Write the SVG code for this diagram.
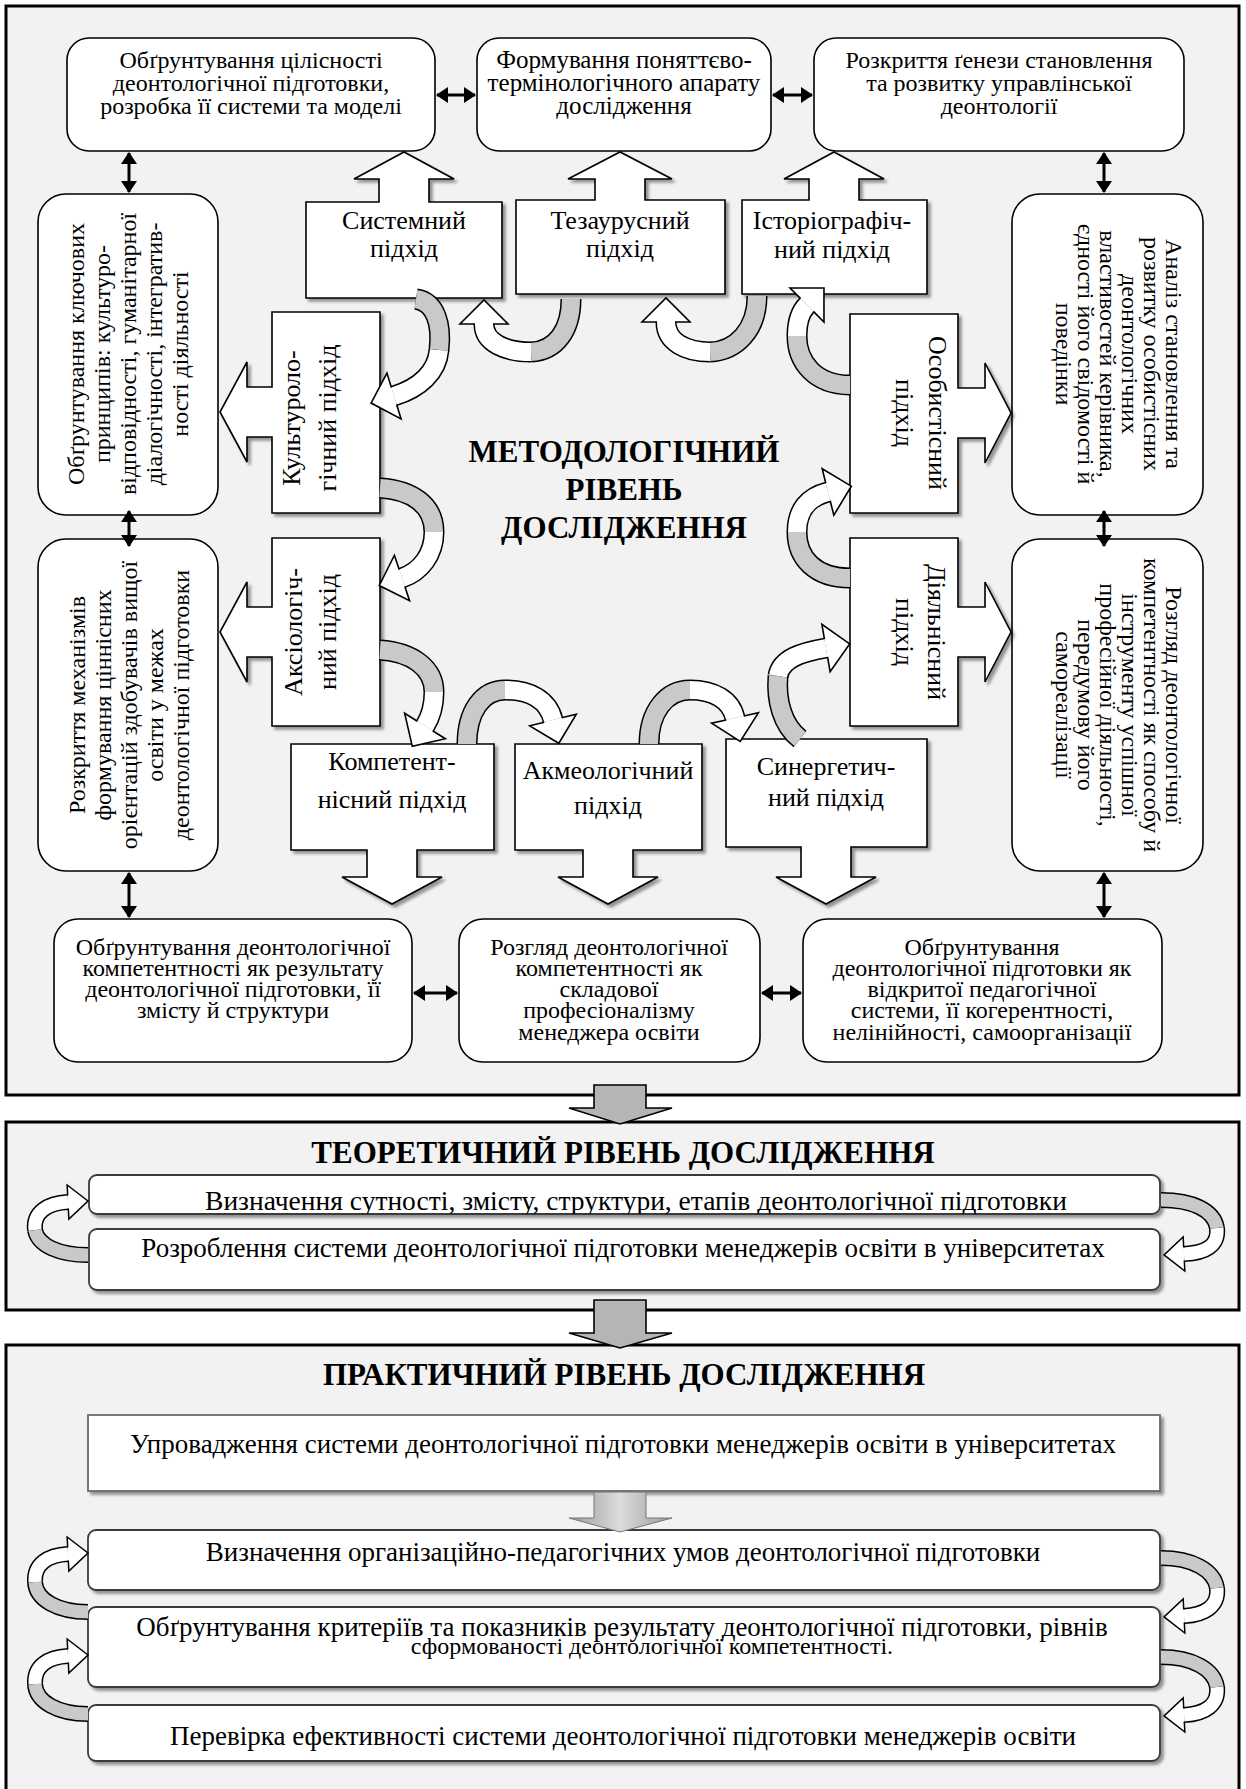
<svg xmlns="http://www.w3.org/2000/svg" width="1246" height="1789" viewBox="0 0 1246 1789">
<style>
.frame{fill:#f2f2f2;stroke:#000;stroke-width:3}
.node{fill:#fff;stroke:#000;stroke-width:1.6}
.appr{fill:#fff;stroke:#000;stroke-width:1.6;stroke-linejoin:miter;filter:url(#sh)}
.lbox{fill:#fff;stroke:#3a3a3a;stroke-width:1.8;filter:url(#sh)}
.t{font-family:"Liberation Serif","Times New Roman",serif;fill:#000;text-anchor:middle}
.s24{font-size:24px}
.s25{font-size:25px}
.s26{font-size:26px}
.s27{font-size:27px}
.tb{font-weight:bold;font-size:31px}
.dbl{fill:none;stroke:#000;stroke-width:3;marker-start:url(#ah);marker-end:url(#ah)}
.ko{fill:none;stroke:#000;stroke-width:21}
.kg{fill:none;stroke:#c9c9c9;stroke-width:18}
.kw{fill:none;stroke:#fff;stroke-width:18;marker-end:url(#ch)}
.lo{fill:none;stroke:#000;stroke-width:16}
.lg{fill:none;stroke:#c9c9c9;stroke-width:13}
.lw{fill:none;stroke:#fff;stroke-width:13;marker-end:url(#ch2)}
.big{fill:#b5b5b5;stroke:#000;stroke-width:1.6}
</style>
<defs>
<filter id="sh" x="-10%" y="-10%" width="130%" height="130%">
<feDropShadow dx="3" dy="3" stdDeviation="1.5" flood-color="#000" flood-opacity="0.4"/>
</filter>
<marker id="ah" markerUnits="userSpaceOnUse" markerWidth="14" markerHeight="16" viewBox="0 0 14 16" refX="11" refY="8" orient="auto-start-reverse">
<path d="M0,0 L12,8 L0,16 z" fill="#000"/>
</marker>
<marker id="ch" markerUnits="userSpaceOnUse" markerWidth="50" markerHeight="50" refX="0" refY="0" orient="auto" overflow="visible">
<path d="M0,9 L0,24 L24,0 L0,-24 L0,-9" fill="#fff" stroke="#000" stroke-width="1.6"/>
</marker>
<marker id="ch2" markerUnits="userSpaceOnUse" markerWidth="40" markerHeight="40" refX="0" refY="0" orient="auto" overflow="visible">
<path d="M0,6.5 L0,17 L20,0 L0,-17 L0,-6.5" fill="#fff" stroke="#000" stroke-width="1.5"/>
</marker>
<linearGradient id="gg" x1="0" y1="0" x2="1" y2="0">
<stop offset="0" stop-color="#9a9a9a"/><stop offset="0.5" stop-color="#dcdcdc"/><stop offset="1" stop-color="#9a9a9a"/>
</linearGradient>
<clipPath id="cT1"><rect x="89" y="1175" width="1071" height="39"/></clipPath>
</defs>

<g id="frames">
<rect class="frame" x="6" y="6" width="1233" height="1089"/>
<rect class="frame" x="6" y="1122" width="1233" height="188"/>
<rect class="frame" x="6" y="1345" width="1233" height="448"/>
</g>

<g id="nodeA"><rect class="node" x="67" y="38" width="368" height="113" rx="22"/>
<text class="t s24" x="251" y="68">Обґрунтування цілісності</text>
<text class="t s24" x="251" y="91">деонтологічної підготовки,</text>
<text class="t s24" x="251" y="114">розробка її системи та моделі</text></g>

<g id="nodeB"><rect class="node" x="477" y="38" width="294" height="113" rx="22"/>
<text class="t s25" x="624" y="68">Формування поняттєво-</text>
<text class="t s25" x="624" y="91">термінологічного апарату</text>
<text class="t s25" x="624" y="114">дослідження</text></g>

<g id="nodeC"><rect class="node" x="814" y="38" width="370" height="113" rx="22"/>
<text class="t s24" x="999" y="68">Розкриття ґенези становлення</text>
<text class="t s24" x="999" y="91">та розвитку управлінської</text>
<text class="t s24" x="999" y="114">деонтології</text></g>

<g id="nodeD"><rect class="node" x="38" y="194" width="180" height="321" rx="28"/>
<text class="t s24" transform="translate(84,354) rotate(-90)">Обґрунтування ключових</text>
<text class="t s24" transform="translate(110,354) rotate(-90)">принципів: культуро-</text>
<text class="t s24" transform="translate(136,354) rotate(-90)">відповідності, гуманітарної</text>
<text class="t s24" transform="translate(162,354) rotate(-90)">діалогічності, інтегратив-</text>
<text class="t s24" transform="translate(188,354) rotate(-90)">ності діяльності</text></g>

<g id="nodeE"><rect class="node" x="38" y="539" width="180" height="332" rx="28"/>
<text class="t s24" transform="translate(85,705) rotate(-90)">Розкриття механізмів</text>
<text class="t s24" transform="translate(111,705) rotate(-90)">формування ціннісних</text>
<text class="t s24" transform="translate(137,705) rotate(-90)">орієнтацій здобувачів вищої</text>
<text class="t s24" transform="translate(163,705) rotate(-90)">освіти у межах</text>
<text class="t s24" transform="translate(189,705) rotate(-90)">деонтологічної підготовки</text></g>

<g id="nodeG"><rect class="node" x="1012" y="194" width="191" height="321" rx="28"/>
<text class="t s24" transform="translate(1166,354) rotate(90)">Аналіз становлення та</text>
<text class="t s24" transform="translate(1144,354) rotate(90)">розвитку особистісних</text>
<text class="t s24" transform="translate(1122,354) rotate(90)">деонтологічних</text>
<text class="t s24" transform="translate(1100,354) rotate(90)">властивостей керівника,</text>
<text class="t s24" transform="translate(1078,354) rotate(90)">єдності його свідомості й</text>
<text class="t s24" transform="translate(1056,354) rotate(90)">поведінки</text></g>

<g id="nodeH"><rect class="node" x="1012" y="539" width="191" height="332" rx="28"/>
<text class="t s24" transform="translate(1166,705) rotate(90)">Розгляд деонтологічної</text>
<text class="t s24" transform="translate(1144,705) rotate(90)">компетентності як способу й</text>
<text class="t s24" transform="translate(1122,705) rotate(90)">інструменту успішної</text>
<text class="t s24" transform="translate(1100,705) rotate(90)">професійної діяльності,</text>
<text class="t s24" transform="translate(1078,705) rotate(90)">передумову його</text>
<text class="t s24" transform="translate(1056,705) rotate(90)">самореалізації</text></g>

<g id="nodeF"><rect class="node" x="54" y="919" width="358" height="143" rx="24"/>
<text class="t s24" x="233" y="955">Обґрунтування деонтологічної</text>
<text class="t s24" x="233" y="976">компетентності як результату</text>
<text class="t s24" x="233" y="997">деонтологічної підготовки, її</text>
<text class="t s24" x="233" y="1018">змісту й структури</text></g>

<g id="nodeI"><rect class="node" x="459" y="919" width="301" height="143" rx="24"/>
<text class="t s24" x="609" y="955">Розгляд деонтологічної</text>
<text class="t s24" x="609" y="976">компетентності як</text>
<text class="t s24" x="609" y="997">складової</text>
<text class="t s24" x="609" y="1018">професіоналізму</text>
<text class="t s24" x="609" y="1040">менеджера освіти</text></g>

<g id="nodeJ"><rect class="node" x="803" y="919" width="359" height="143" rx="24"/>
<text class="t s24" x="982" y="955">Обґрунтування</text>
<text class="t s24" x="982" y="976">деонтологічної підготовки як</text>
<text class="t s24" x="982" y="997">відкритої педагогічної</text>
<text class="t s24" x="982" y="1018">системи, її когерентності,</text>
<text class="t s24" x="982" y="1040">нелінійності, самоорганізації</text></g>

<g id="title1">
<text class="t tb" x="624" y="462">МЕТОДОЛОГІЧНИЙ</text>
<text class="t tb" x="624" y="500">РІВЕНЬ</text>
<text class="t tb" x="624" y="538">ДОСЛІДЖЕННЯ</text>
</g>

<g id="sys"><polygon class="appr" points="306,202 379,202 379,179 354,179 404,152 454,179 429,179 429,202 502,202 502,298 306,298"/>
<text class="t s26" x="404" y="229">Системний</text><text class="t s26" x="404" y="257">підхід</text></g>
<g id="tez"><polygon class="appr" points="516,200 595,200 595,179 568,179 620,152 672,179 645,179 645,200 725,200 725,294 516,294"/>
<text class="t s26" x="620" y="229">Тезаурусний</text><text class="t s26" x="620" y="257">підхід</text></g>
<g id="ist"><polygon class="appr" points="742,200 809,200 809,179 784,179 834,152 884,179 859,179 859,200 927,200 927,294 742,294"/>
<text class="t s26" x="832" y="229">Історіографіч-</text><text class="t s26" x="832" y="258">ний підхід</text></g>
<g id="kul"><polygon class="appr" points="272,312 380,312 380,513 272,513 272,437 247,437 247,462 220,412 247,362 247,387 272,387"/>
<text class="t s26" transform="translate(300,418) rotate(-90)">Культуроло-</text>
<text class="t s26" transform="translate(336,418) rotate(-90)">гічний підхід</text></g>
<g id="aks"><polygon class="appr" points="272,538 380,538 380,726 272,726 272,657 247,657 247,682 220,632 247,582 247,607 272,607"/>
<text class="t s26" transform="translate(302,632) rotate(-90)">Аксіологіч-</text>
<text class="t s26" transform="translate(336,632) rotate(-90)">ний підхід</text></g>
<g id="oso"><polygon class="appr" points="850,314 958,314 958,388 985,388 985,363 1011,413 985,463 985,438 958,438 958,513 850,513"/>
<text class="t s26" transform="translate(929,413) rotate(90)">Особистісний</text>
<text class="t s26" transform="translate(896,413) rotate(90)">підхід</text></g>
<g id="dia"><polygon class="appr" points="850,538 958,538 958,607 985,607 985,582 1011,632 985,682 985,657 958,657 958,726 850,726"/>
<text class="t s26" transform="translate(928,632) rotate(90)">Діяльнісний</text>
<text class="t s26" transform="translate(896,632) rotate(90)">підхід</text></g>
<g id="kom"><polygon class="appr" points="291,744 494,744 494,850 417,850 417,877 442,877 392,904 342,877 367,877 367,850 291,850"/>
<text class="t s26" x="392" y="770">Компетент-</text><text class="t s26" x="392" y="808">нісний підхід</text></g>
<g id="akm"><polygon class="appr" points="515,744 702,744 702,850 633,850 633,877 658,877 608,904 558,877 583,877 583,850 515,850"/>
<text class="t s26" x="608" y="779">Акмеологічний</text><text class="t s26" x="608" y="814">підхід</text></g>
<g id="syn"><polygon class="appr" points="726,739 927,739 927,847 851,847 851,877 876,877 826,904 776,877 801,877 801,847 726,847"/>
<text class="t s26" x="826" y="775">Синергетич-</text><text class="t s26" x="826" y="806">ний підхід</text></g>

<g id="title2"><text class="t tb" x="623" y="1163">ТЕОРЕТИЧНИЙ РІВЕНЬ ДОСЛІДЖЕННЯ</text></g>
<g id="T1"><rect class="lbox" x="89" y="1175" width="1071" height="39" rx="8"/>
<text class="t" style="font-size:27.5px" x="636" y="1210" clip-path="url(#cT1)">Визначення сутності, змісту, структури, етапів деонтологічної підготовки</text></g>
<g id="T2"><rect class="lbox" x="89" y="1229" width="1071" height="61" rx="8"/>
<text class="t s27" x="623" y="1257">Розроблення системи деонтологічної підготовки менеджерів освіти в університетах</text></g>

<g id="title3"><text class="t tb" x="624" y="1385">ПРАКТИЧНИЙ РІВЕНЬ ДОСЛІДЖЕННЯ</text></g>
<g id="P1"><rect class="lbox" x="88" y="1415" width="1072" height="76" style="stroke:#6a6a6a"/>
<text class="t s27" x="623" y="1453">Упровадження системи деонтологічної підготовки менеджерів освіти в університетах</text></g>
<g id="P2"><rect class="lbox" x="88" y="1530" width="1072" height="60" rx="8"/>
<text class="t s27" x="623" y="1561">Визначення організаційно-педагогічних умов деонтологічної підготовки</text></g>
<g id="P3"><rect class="lbox" x="88" y="1607" width="1072" height="80" rx="8"/>
<text class="t s27" x="622" y="1636">Обґрунтування критеріїв та показників результату деонтологічної підготовки, рівнів</text>
<text class="t s24" x="652" y="1654">сформованості деонтологічної компетентності.</text></g>
<g id="P4"><rect class="lbox" x="88" y="1705" width="1072" height="56" rx="8"/>
<text class="t s27" x="623" y="1745">Перевірка ефективності системи деонтологічної підготовки менеджерів освіти</text></g>

<g id="connectors">
<line class="dbl" x1="437" y1="95" x2="475" y2="95"/>
<line class="dbl" x1="773" y1="95" x2="812" y2="95"/>
<line class="dbl" x1="129" y1="153" x2="129" y2="192"/>
<line class="dbl" x1="1104" y1="153" x2="1104" y2="192"/>
<line class="dbl" x1="129" y1="511" x2="129" y2="546"/>
<line class="dbl" x1="1104" y1="511" x2="1104" y2="546"/>
<line class="dbl" x1="129" y1="873" x2="129" y2="917"/>
<line class="dbl" x1="1104" y1="873" x2="1104" y2="917"/>
<line class="dbl" x1="414" y1="993" x2="457" y2="993"/>
<line class="dbl" x1="762" y1="993" x2="801" y2="993"/>

<g id="c1"><path class="ko" d="M571,299 C571,330 556,351 531,352"/><path class="kg" d="M571,299 C571,330 556,351 531,352"/><path class="ko" d="M531,352 C506,352 484,343 484,324"/><path class="kw" d="M531,352 C506,352 484,343 484,324"/></g>
<g id="c2"><path class="ko" d="M757,296 C757,330 736,351 710,352"/><path class="kg" d="M757,296 C757,330 736,351 710,352"/><path class="ko" d="M710,352 C686,352 666,342 666,322"/><path class="kw" d="M710,352 C686,352 666,342 666,322"/></g>
<g id="c3"><path class="ko" d="M416,299 C436,302 442,325 439,350"/><path class="kg" d="M416,299 C436,302 442,325 439,350"/><path class="ko" d="M439,350 C437,372 420,388 394,396"/><path class="kw" d="M439,350 C437,372 420,388 394,396"/></g>
<g id="c4"><path class="ko" d="M380,488 C412,490 434,505 434,532"/><path class="kg" d="M380,488 C412,490 434,505 434,532"/><path class="ko" d="M434,532 C434,555 420,572 402,578"/><path class="kw" d="M434,532 C434,555 420,572 402,578"/></g>
<g id="c5"><path class="ko" d="M380,650 C412,652 434,668 434,692"/><path class="kg" d="M380,650 C412,652 434,668 434,692"/><path class="ko" d="M434,692 C434,708 430,718 425,726"/><path class="kw" d="M434,692 C434,708 430,718 425,726"/></g>
<g id="c6"><path class="ko" d="M467,744 C467,712 482,690 505,690"/><path class="kg" d="M467,744 C467,712 482,690 505,690"/><path class="ko" d="M505,690 C530,690 548,700 553,720"/><path class="kw" d="M505,690 C530,690 548,700 553,720"/></g>
<g id="c7"><path class="ko" d="M649,744 C649,712 666,690 690,690"/><path class="kg" d="M649,744 C649,712 666,690 690,690"/><path class="ko" d="M690,690 C714,690 731,700 735,718"/><path class="kw" d="M690,690 C714,690 731,700 735,718"/></g>
<g id="c8"><path class="ko" d="M800,739 C782,725 776,700 778,676"/><path class="kg" d="M800,739 C782,725 776,700 778,676"/><path class="ko" d="M778,676 C781,658 803,652 826,648"/><path class="kw" d="M778,676 C781,658 803,652 826,648"/></g>
<g id="c9"><path class="ko" d="M850,578 C815,578 797,558 797,532"/><path class="kg" d="M850,578 C815,578 797,558 797,532"/><path class="ko" d="M797,532 C797,510 808,497 828,492"/><path class="kw" d="M797,532 C797,510 808,497 828,492"/></g>
<g id="c10"><path class="ko" d="M850,385 C815,385 797,362 797,336"/><path class="kg" d="M850,385 C815,385 797,362 797,336"/><path class="ko" d="M797,336 C797,320 801,311 807,305"/><path class="kw" d="M797,336 C797,320 801,311 807,305"/></g>

<g id="lt"><path class="lo" d="M88,1255 C60,1255 38,1246 35,1230"/><path class="lg" d="M88,1255 C60,1255 38,1246 35,1230"/><path class="lo" d="M35,1230 C33,1212 48,1203 68,1202"/><path class="lw" d="M35,1230 C33,1212 48,1203 68,1202"/></g>
<g id="rt"><path class="lo" d="M1161,1200 C1192,1200 1214,1210 1217,1228"/><path class="lg" d="M1161,1200 C1192,1200 1214,1210 1217,1228"/><path class="lo" d="M1217,1228 C1219,1246 1205,1253 1184,1254"/><path class="lw" d="M1217,1228 C1219,1246 1205,1253 1184,1254"/></g>
<g id="lpa"><path class="lo" d="M88,1612 C58,1612 36,1600 35,1582"/><path class="lg" d="M88,1612 C58,1612 36,1600 35,1582"/><path class="lo" d="M35,1582 C34,1564 48,1555 68,1554"/><path class="lw" d="M35,1582 C34,1564 48,1555 68,1554"/></g>
<g id="lpb"><path class="lo" d="M88,1714 C58,1714 36,1702 35,1684"/><path class="lg" d="M88,1714 C58,1714 36,1702 35,1684"/><path class="lo" d="M35,1684 C34,1666 48,1657 68,1656"/><path class="lw" d="M35,1684 C34,1666 48,1657 68,1656"/></g>
<g id="rpc"><path class="lo" d="M1161,1558 C1192,1558 1214,1570 1217,1588"/><path class="lg" d="M1161,1558 C1192,1558 1214,1570 1217,1588"/><path class="lo" d="M1217,1588 C1219,1606 1205,1615 1184,1616"/><path class="lw" d="M1217,1588 C1219,1606 1205,1615 1184,1616"/></g>
<g id="rpd"><path class="lo" d="M1161,1657 C1192,1657 1214,1669 1217,1687"/><path class="lg" d="M1161,1657 C1192,1657 1214,1669 1217,1687"/><path class="lo" d="M1217,1687 C1219,1705 1205,1714 1184,1715"/><path class="lw" d="M1217,1687 C1219,1705 1205,1714 1184,1715"/></g>

<polygon class="big" points="594,1085 646,1085 646,1108 672,1108 620,1124 569,1108 594,1108"/>
<polygon class="big" points="594,1300 646,1300 646,1333 672,1333 620,1348 569,1333 594,1333"/>
<polygon points="594,1492 646,1492 646,1518 672,1518 620,1532 569,1518 594,1518" fill="url(#gg)" stroke="#777" stroke-width="1"/>
</g>
</svg>
